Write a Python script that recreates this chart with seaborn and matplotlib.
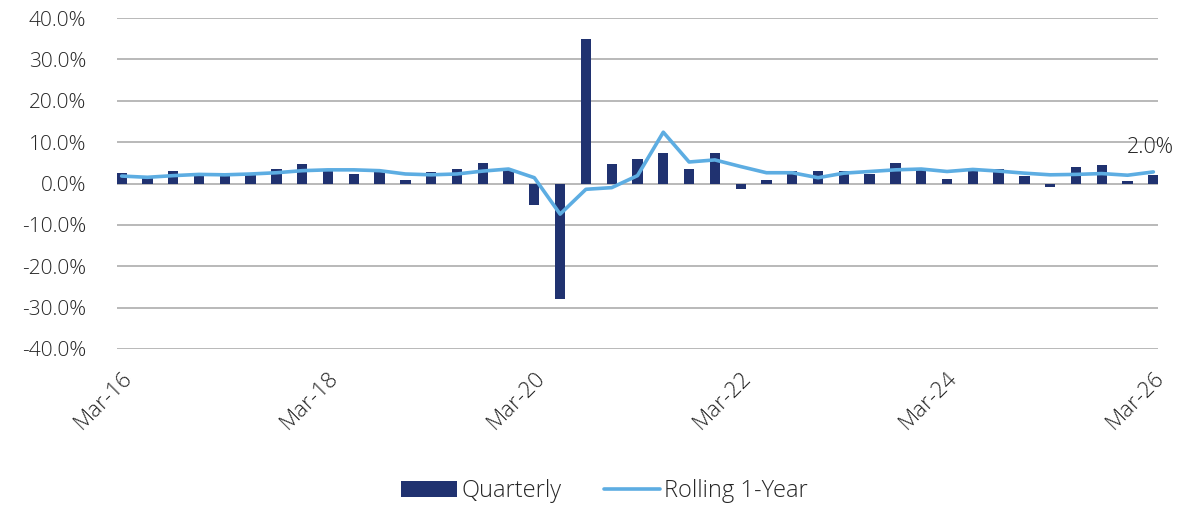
import numpy as np
import pandas as pd
import matplotlib
matplotlib.use("Agg")
import matplotlib.pyplot as plt
from matplotlib.ticker import FuncFormatter
import seaborn as sns

quarters = pd.date_range("2016-03-31", periods=41, freq="QE").strftime("%b-%y").tolist()
quarterly = [2.5, 1.3, 3.1, 2.3, 2.1, 2.2, 3.4, 4.8, 3.2, 2.3, 3.3, 0.8, 2.8, 3.5, 5.0, 3.5,
             -5.3, -28.0, 35.0, 4.8, 5.9, 7.3, 3.5, 7.3, -1.3, 0.9, 3.1, 3.0, 3.1, 2.3,
             4.9, 3.5, 1.0, 3.7, 3.5, 1.9, -0.8, 3.9, 4.5, 0.6, 2.1]
rolling = [1.8, 1.5, 1.9, 2.2, 2.1, 2.3, 2.6, 3.1, 3.3, 3.3, 3.1, 2.3, 2.1, 2.3, 3.0, 3.5,
           1.4, -7.4, -1.4, -1.0, 1.9, 12.4, 5.2, 5.7, 4.1, 2.6, 2.6, 1.4, 2.5, 2.9,
           3.3, 3.5, 2.9, 3.4, 3.0, 2.5, 2.1, 2.2, 2.4, 2.0, 2.8]
last_label = "2.0%"
tick_every = 8

sns.set_theme(style="white")
plt.rcParams["font.family"] = ["Open Sans", "DejaVu Sans"]
plt.rcParams["font.weight"] = "light"

df = pd.DataFrame({"quarter": quarters, "Quarterly": quarterly, "Rolling 1-Year": rolling})
df["pos"] = np.arange(len(df))

bar_color = "#203270"
line_color = "#5DADE2"
text_color = "#262626"

fig = plt.figure(figsize=(11.84, 5.09), dpi=100)
ax = fig.add_axes([117 / 1184, 160 / 509, 1041 / 1184, 331 / 509])

sns.barplot(data=df, x="pos", y="Quarterly", color=bar_color, width=0.4,
            ax=ax, label="Quarterly", zorder=3, saturation=1, linewidth=0,
            edgecolor=bar_color)
sns.lineplot(data=df, x="pos", y="Rolling 1-Year", color=line_color, linewidth=2.6,
             ax=ax, label="Rolling 1-Year", zorder=4)

ax.set_xlim(-0.18, len(df) - 1 + 0.18)
ax.set_ylim(-40, 40)
ax.set_yticks(np.arange(-40, 41, 10))
ax.yaxis.set_major_formatter(FuncFormatter(lambda v, p: f"{v:.1f}%"))
ticks = df["pos"][::tick_every]
ax.set_xticks(ticks)
ax.set_xticklabels(df["quarter"][::tick_every], rotation=45, ha="right",
                   rotation_mode="anchor")
ax.set_xlabel("")
ax.set_ylabel("")
ax.grid(axis="y", color="#A6A6A6", linewidth=1.1, zorder=0)
ax.grid(axis="x", visible=False)
for s in ax.spines.values():
    s.set_visible(False)
ax.tick_params(axis="y", length=0, labelsize=15, colors=text_color, pad=22)
ax.tick_params(axis="x", length=0, labelsize=16, colors=text_color, pad=13)

ax.annotate(last_label, xy=(df["pos"].iloc[-1], df["Rolling 1-Year"].iloc[-1]),
            xytext=(-2, 10), textcoords="offset points", ha="center", va="bottom",
            fontsize=15.5, color=text_color, annotation_clip=False)

handles, labels = ax.get_legend_handles_labels()
order = [labels.index("Quarterly"), labels.index("Rolling 1-Year")]
ax.legend([handles[i] for i in order], [labels[i] for i in order],
          loc="center", bbox_to_anchor=(0.468, -0.43), ncol=2, frameon=False,
          fontsize=17, handlelength=2.4, handleheight=0.7, columnspacing=1.8,
          handletextpad=0.15, labelcolor=text_color)

fig.savefig("out.png", dpi=100)
